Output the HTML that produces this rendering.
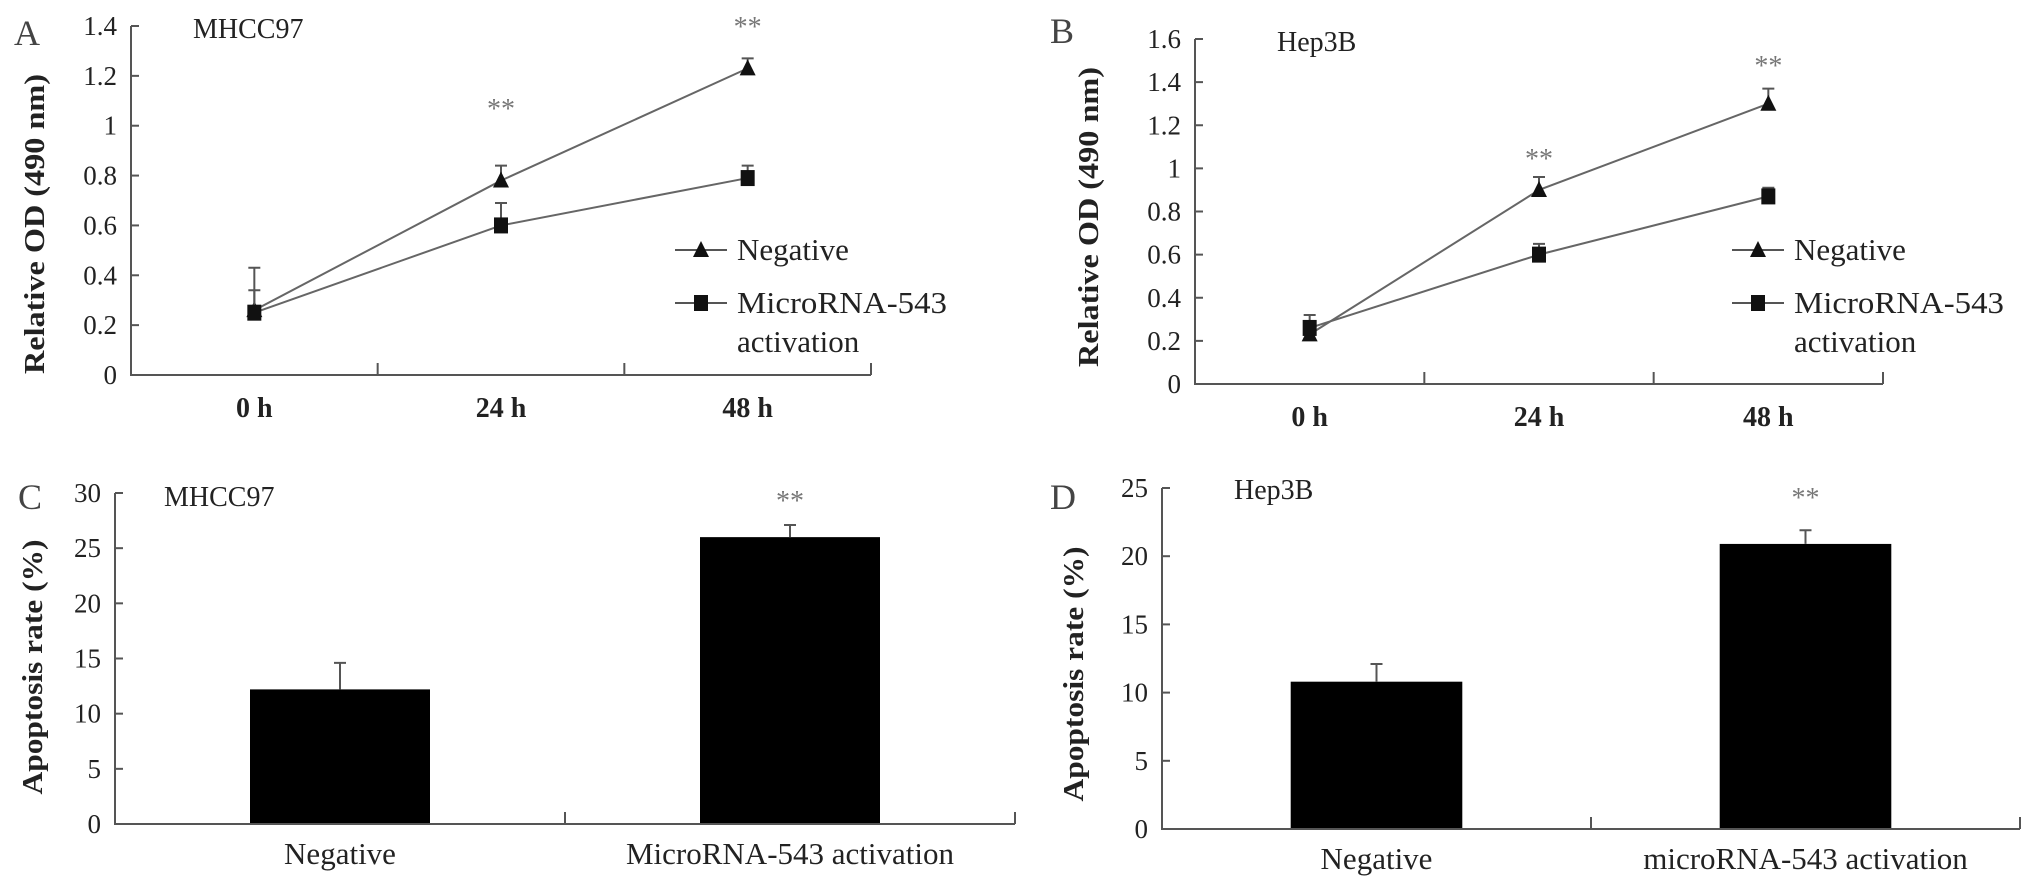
<!DOCTYPE html>
<html><head><meta charset="utf-8"><style>
html,body{margin:0;padding:0;background:#fff;}
svg{display:block;font-family:"Liberation Serif",serif;}
</style></head><body>
<svg id="fig" width="2031" height="889" viewBox="0 0 2031 889" xmlns="http://www.w3.org/2000/svg"></svg>
<script>
// ---- data ----
const timeCats = ["0 h","24 h","48 h"];
const aNegative = [0.26, 0.78, 1.23];
const aNegErr = [0.08, 0.06, 0.04];
const aMicro = [0.25, 0.60, 0.79];
const aMicroErr = [0.18, 0.09, 0.05];
const aTicks = [0,0.2,0.4,0.6,0.8,1,1.2,1.4];
const bNegative = [0.23, 0.90, 1.30];
const bNegErr = [0.05, 0.06, 0.07];
const bMicro = [0.26, 0.60, 0.87];
const bMicroErr = [0.06, 0.05, 0.04];
const bTicks = [0,0.2,0.4,0.6,0.8,1,1.2,1.4,1.6];
const cCats = ["Negative","MicroRNA-543 activation"];
const cValues = [12.2, 26.0];
const cErr = [2.4, 1.1];
const cTicks = [0,5,10,15,20,25,30];
const dCats = ["Negative","microRNA-543 activation"];
const dValues = [10.8, 20.9];
const dErr = [1.3, 1.0];
const dTicks = [0,5,10,15,20,25];

const svg = document.getElementById('fig');
const NS = "http://www.w3.org/2000/svg";
function el(tag, attrs, parent){
  const e = document.createElementNS(NS, tag);
  for (const k in attrs) e.setAttribute(k, attrs[k]);
  (parent||svg).appendChild(e);
  return e;
}
function txt(x,y,s,size,opts,parent){
  opts = opts||{};
  const t = el('text',{x:x,y:y,'font-size':size,fill:opts.fill||'#222','text-anchor':opts.anchor||'start'},parent);
  if(opts.bold) t.setAttribute('font-weight','bold');
  if(opts.rotate) t.setAttribute('transform','rotate(-90 '+x+' '+y+')');
  if(opts.len){ t.setAttribute('textLength',opts.len); t.setAttribute('lengthAdjust','spacingAndGlyphs'); }
  t.textContent = s;
  return t;
}

function linePanel(p){
  const g = el('g',{});
  
  
  const y = v => p.y0 - (v/p.max)*(p.y0-p.yTop);
  const band = (p.xEnd-p.x0)/p.cats.length;
  const x = i => p.x0 + band*(i+0.5);
  const ax = el('path',{d:`M${p.x0} ${p.yTop}V${p.y0}H${p.xEnd}`,stroke:'#555','stroke-width':2,fill:'none'},g);
  
  
  p.ticks.forEach(v=>{
    el('line',{x1:p.x0,x2:p.x0+8,y1:y(v),y2:y(v),stroke:'#555','stroke-width':2},g);
    const t = txt(p.x0-14,y(v)+9,String(v),27,{anchor:'end'},g);
    
    
  });
  for(let i=1;i<p.cats.length;i++){
    const tx = p.x0+band*i;
    el('line',{x1:tx,x2:tx,y1:p.y0,y2:p.y0-12,stroke:'#555','stroke-width':2},g);
  }
  el('line',{x1:p.xEnd,x2:p.xEnd,y1:p.y0,y2:p.y0-12,stroke:'#555','stroke-width':2},g);
  p.cats.forEach((c,i)=>{
    const t = txt(x(i),p.y0+42,c,28,{anchor:'middle',bold:true},g);
    
    
  });
  const series = [{v:p.neg,e:p.negErr,m:'tri',n:'negative-series'},{v:p.mic,e:p.micErr,m:'sq',n:'microrna-series'}];
  series.forEach(s=>{
    const pl = el('polyline',{points:s.v.map((v,i)=>x(i)+','+y(v)).join(' '),fill:'none',stroke:'#666','stroke-width':2},g);
    
    
    s.v.forEach((v,i)=>{
      const top = y(v+s.e[i]);
      el('path',{d:`M${x(i)} ${y(v)}V${top}M${x(i)-6} ${top}H${x(i)+6}`,stroke:'#555','stroke-width':2},g);
      let mk;
      if(s.m==='tri') mk = el('path',{d:`M${x(i)} ${y(v)-9}L${x(i)+8} ${y(v)+7}L${x(i)-8} ${y(v)+7}Z`,fill:'#111'},g);
      else mk = el('rect',{x:x(i)-7,y:y(v)-8,width:14,height:16,fill:'#111'},g);
      
      
    });
  });
  p.stars.forEach(s=>{
    const t = txt(x(s.i),s.y,'**',28,{anchor:'middle',fill:'#777'},g);
    
    
  });
  // legend
  const L = p.leg;
  el('line',{x1:L.x,x2:L.x+52,y1:L.y1,y2:L.y1,stroke:'#555','stroke-width':2},g);
  el('path',{d:`M${L.x+26} ${L.y1-9}L${L.x+34} ${L.y1+7}L${L.x+18} ${L.y1+7}Z`,fill:'#111'},g);
  const l1 = txt(L.x+62,L.y1+10,'Negative',31,{},g);
  
  
  el('line',{x1:L.x,x2:L.x+52,y1:L.y2,y2:L.y2,stroke:'#555','stroke-width':2},g);
  el('rect',{x:L.x+19,y:L.y2-8,width:14,height:16,fill:'#111'},g);
  const l2 = txt(L.x+62,L.y2+10,'MicroRNA-543',31,{len:210},g);
  
  
  txt(L.x+62,L.y2+49,'activation',31,{},g);
  const yl = txt(p.ylx,p.yly,'Relative OD (490 nm)',28,{anchor:'middle',bold:true,rotate:true,len:300},g);
  
  
  const pt = txt(p.titleX,p.titleY,p.title,28,{},g);
  
  
  const pl2 = txt(p.letterX,p.letterY,p.letter,36,{fill:'#444'},g);
  
  
}

function barPanel(p){
  const g = el('g',{});
  
  
  const y = v => p.y0 - (v/p.max)*(p.y0-p.yTop);
  const band = (p.xEnd-p.x0)/p.cats.length;
  const x = i => p.x0 + band*(i+0.5);
  const bw = band*0.4;
  p.vals.forEach((v,i)=>{
    const r = el('rect',{x:x(i)-bw/2,y:y(v),width:bw,height:p.y0-y(v),fill:'#000'},g);
    
    
    const top = y(v+p.err[i]);
    el('path',{d:`M${x(i)} ${y(v)}V${top}M${x(i)-6} ${top}H${x(i)+6}`,stroke:'#555','stroke-width':2},g);
  });
  el('path',{d:`M${p.x0} ${p.yTop}V${p.y0}H${p.xEnd}`,stroke:'#555','stroke-width':2,fill:'none'},g);
  p.ticks.forEach(v=>{
    el('line',{x1:p.x0,x2:p.x0+8,y1:y(v),y2:y(v),stroke:'#555','stroke-width':2},g);
    const t = txt(p.x0-14,y(v)+9,String(v),27,{anchor:'end'},g);
    
    
  });
  el('line',{x1:p.x0+band,x2:p.x0+band,y1:p.y0,y2:p.y0-12,stroke:'#555','stroke-width':2},g);
  el('line',{x1:p.xEnd,x2:p.xEnd,y1:p.y0,y2:p.y0-12,stroke:'#555','stroke-width':2},g);
  p.cats.forEach((c,i)=>{
    const t = txt(x(i),p.y0+40,c,31,{anchor:'middle'},g);
    
    
  });
  const st = txt(x(1),p.starY,'**',28,{anchor:'middle',fill:'#777'},g);
  
  
  const yl = txt(p.ylx,p.yly,'Apoptosis rate (%)',28,{anchor:'middle',bold:true,rotate:true,len:255},g);
  
  
  const pt = txt(p.titleX,p.titleY,p.title,28,{},g);
  
  
  const pl = txt(p.letterX,p.letterY,p.letter,36,{fill:'#444'},g);
  
  
}

linePanel({name:'panel-a',x0:131,xEnd:871,yTop:26,y0:375,max:1.4,ticks:aTicks,cats:timeCats,
  neg:aNegative,negErr:aNegErr,mic:aMicro,micErr:aMicroErr,
  stars:[{i:1,y:118},{i:2,y:36}],leg:{x:675,y1:250,y2:303},
  ylx:44,yly:224,title:'MHCC97',titleX:193,titleY:38,letter:'A',letterX:14,letterY:45});
linePanel({name:'panel-b',x0:1195,xEnd:1883,yTop:39,y0:384,max:1.6,ticks:bTicks,cats:timeCats,
  neg:bNegative,negErr:bNegErr,mic:bMicro,micErr:bMicroErr,
  stars:[{i:1,y:168},{i:2,y:75}],leg:{x:1732,y1:250,y2:303},
  ylx:1098,yly:217,title:'Hep3B',titleX:1277,titleY:51,letter:'B',letterX:1050,letterY:43});
barPanel({name:'panel-c',x0:115,xEnd:1015,yTop:493,y0:824,max:30,ticks:cTicks,cats:cCats,
  vals:cValues,err:cErr,starY:510,ylx:42,yly:667,title:'MHCC97',titleX:164,titleY:506,letter:'C',letterX:18,letterY:509});
barPanel({name:'panel-d',x0:1162,xEnd:2020,yTop:488,y0:829,max:25,ticks:dTicks,cats:dCats,
  vals:dValues,err:dErr,starY:507,ylx:1083,yly:674,title:'Hep3B',titleX:1234,titleY:499,letter:'D',letterX:1050,letterY:509});
</script>
</body></html>
